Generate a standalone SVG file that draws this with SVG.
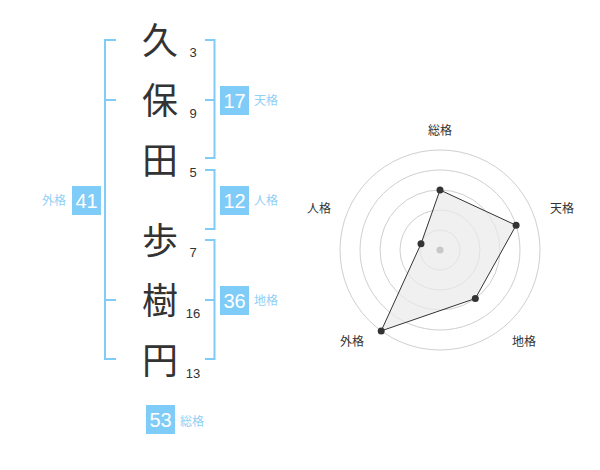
<svg xmlns="http://www.w3.org/2000/svg" width="600" height="470" viewBox="0 0 600 470">
<style>
.ch{font-family:"Noto Sans CJK JP","Noto Sans CJK SC",sans-serif;font-size:36px;fill:#333;text-anchor:middle}
.num{font-family:"Liberation Sans",Arial,sans-serif;font-size:13px;fill:#333;text-anchor:middle}
.br{fill:none;stroke:#80ccf8;stroke-width:2}
.box{fill:#80ccf8}
.bt{font-family:"Liberation Sans",Arial,sans-serif;font-size:20px;fill:#fff;text-anchor:middle}
.lb{font-family:"Noto Sans CJK JP","Noto Sans CJK SC",sans-serif;font-size:12px;fill:#8fd0f6}
.rl{font-family:"Noto Sans CJK JP","Noto Sans CJK SC",sans-serif;font-size:12px;fill:#333;text-anchor:middle}
.ring{fill:none;stroke:#cfcfcf;stroke-width:1}
.dot{fill:#333}
</style>
<rect width="600" height="470" fill="#fff"/>
<g id="name">
<text class="ch" x="160" y="53.7">久</text>
<text class="ch" x="160" y="113.7">保</text>
<text class="ch" x="160" y="173.7">田</text>
<text class="ch" x="160" y="253.7">歩</text>
<text class="ch" x="160" y="313.7">樹</text>
<text class="ch" x="160" y="373.7">円</text>
<text class="num" x="193" y="57.3">3</text>
<text class="num" x="193" y="117.5">9</text>
<text class="num" x="193" y="177.3">5</text>
<text class="num" x="193" y="257.3">7</text>
<text class="num" x="193" y="317.5">16</text>
<text class="num" x="193" y="377.5">13</text>
</g>
<g id="connectors">
<path class="br" d="M116,40 H105 V359 H116 M105,100 H116 M105,300 H116"/>
<path class="br" d="M205,40 H214.5 V158 H205 M214.5,100 H205"/>
<path class="br" d="M205,170 H214.5 V229 H205"/>
<path class="br" d="M205,240 H214.5 V359 H205 M214.5,300 H205"/>
</g>
<g id="tenkaku">
<rect class="box" x="220" y="86" width="29" height="29"/>
<text class="bt" x="234.5" y="107.5">17</text>
<text class="lb" x="254" y="105">天格</text>
</g>
<g id="jinkaku">
<rect class="box" x="220" y="186" width="29" height="29"/>
<text class="bt" x="234.5" y="207.5">12</text>
<text class="lb" x="254" y="205">人格</text>
</g>
<g id="chikaku">
<rect class="box" x="220" y="286" width="29" height="29"/>
<text class="bt" x="234.5" y="307.5">36</text>
<text class="lb" x="254" y="305">地格</text>
</g>
<g id="gaikaku">
<rect class="box" x="72" y="186" width="29" height="29"/>
<text class="bt" x="86.5" y="207.5">41</text>
<text class="lb" x="66" y="205" text-anchor="end">外格</text>
</g>
<g id="soukaku">
<rect class="box" x="146" y="405" width="29" height="29"/>
<text class="bt" x="160.5" y="426.5">53</text>
<text class="lb" x="180" y="426">総格</text>
</g>
<g id="radar">
<circle class="ring" cx="440" cy="250" r="20"/>
<circle class="ring" cx="440" cy="250" r="40"/>
<circle class="ring" cx="440" cy="250" r="60"/>
<circle class="ring" cx="440" cy="250" r="80"/>
<circle class="ring" cx="440" cy="250" r="100"/>
<polygon points="440,190 516.1,225.3 475.3,298.5 381.2,330.9 421,243.8" fill="#eaeaea" fill-opacity="0.7" stroke="#333" stroke-width="1"/>
<circle cx="440" cy="250" r="3.5" fill="#c8c8c8"/>
<circle class="dot" cx="440" cy="190" r="3.5"/>
<circle class="dot" cx="516.1" cy="225.3" r="3.5"/>
<circle class="dot" cx="475.3" cy="298.5" r="3.5"/>
<circle class="dot" cx="381.2" cy="330.9" r="3.5"/>
<circle class="dot" cx="421" cy="243.8" r="3.5"/>
<text class="rl" x="440" y="134.5">総格</text>
<text class="rl" x="562" y="212.5">天格</text>
<text class="rl" x="524" y="346">地格</text>
<text class="rl" x="352" y="346">外格</text>
<text class="rl" x="319" y="212.5">人格</text>
</g>
</svg>
